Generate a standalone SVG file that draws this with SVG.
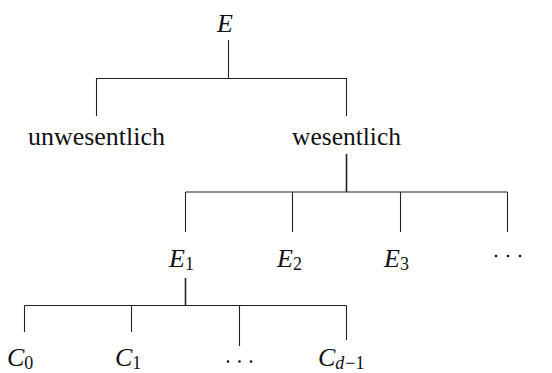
<svg xmlns="http://www.w3.org/2000/svg" width="552" height="373" viewBox="0 0 552 373">
<style>
text{font-family:'Liberation Serif','DejaVu Serif',serif;font-size:26px;fill:#111}
.m{font-style:italic}
.s{font-size:18px;font-style:normal}
.si{font-size:18px;font-style:italic}
.c line{stroke:#222;stroke-width:1.1}
.c .t{stroke-width:1.6}
</style>
<rect width="552" height="373" fill="#fff"/>
<g class="c" id="connectors">
<line x1="228.5" y1="40" x2="228.5" y2="78"/>
<line x1="96.5" y1="78.5" x2="346.5" y2="78.5"/>
<line x1="96.5" y1="78" x2="96.5" y2="116"/>
<line x1="346.5" y1="78" x2="346.5" y2="116"/>
<line class="t" x1="346.5" y1="154" x2="346.5" y2="192"/>
<line x1="185.5" y1="192" x2="507.5" y2="192"/>
<line x1="185.5" y1="192" x2="185.5" y2="232"/>
<line x1="292.5" y1="192" x2="292.5" y2="232"/>
<line x1="400.5" y1="192" x2="400.5" y2="232"/>
<line x1="507.5" y1="192" x2="507.5" y2="232"/>
<line class="t" x1="185.5" y1="278" x2="185.5" y2="305.5"/>
<line x1="24.5" y1="305.5" x2="346.5" y2="305.5"/>
<line x1="24.5" y1="305.5" x2="24.5" y2="332"/>
<line x1="131.5" y1="305.5" x2="131.5" y2="332"/>
<line x1="239.5" y1="305.5" x2="239.5" y2="346"/>
<line x1="346.5" y1="305.5" x2="346.5" y2="340"/>
</g>
<g id="E"><text class="m" x="217" y="32">E</text></g>
<g id="unwesentlich"><text x="28" y="145" textLength="137" lengthAdjust="spacingAndGlyphs">unwesentlich</text></g>
<g id="wesentlich"><text x="292" y="145" textLength="109" lengthAdjust="spacingAndGlyphs">wesentlich</text></g>
<g id="E1"><text class="m" x="169" y="267">E<tspan class="s" dy="3">1</tspan></text></g>
<g id="E2"><text class="m" x="277" y="267">E<tspan class="s" dy="3">2</tspan></text></g>
<g id="E3"><text class="m" x="384" y="267">E<tspan class="s" dy="3">3</tspan></text></g>
<g id="Edots"><circle cx="496" cy="256" r="1.3" fill="#111"/><circle cx="508" cy="256" r="1.3" fill="#111"/><circle cx="520" cy="256" r="1.3" fill="#111"/></g>
<g id="C0"><text class="m" x="7" y="366">C<tspan class="s" dy="3">0</tspan></text></g>
<g id="C1"><text class="m" x="115" y="366">C<tspan class="s" dy="3">1</tspan></text></g>
<g id="Cdots"><circle cx="228" cy="361.5" r="1.3" fill="#111"/><circle cx="239.5" cy="361.5" r="1.3" fill="#111"/><circle cx="251" cy="361.5" r="1.3" fill="#111"/></g>
<g id="Cd1"><text class="m" x="318" y="366">C<tspan class="si" dy="3">d</tspan><tspan class="s" dx="1">−1</tspan></text></g>
</svg>
